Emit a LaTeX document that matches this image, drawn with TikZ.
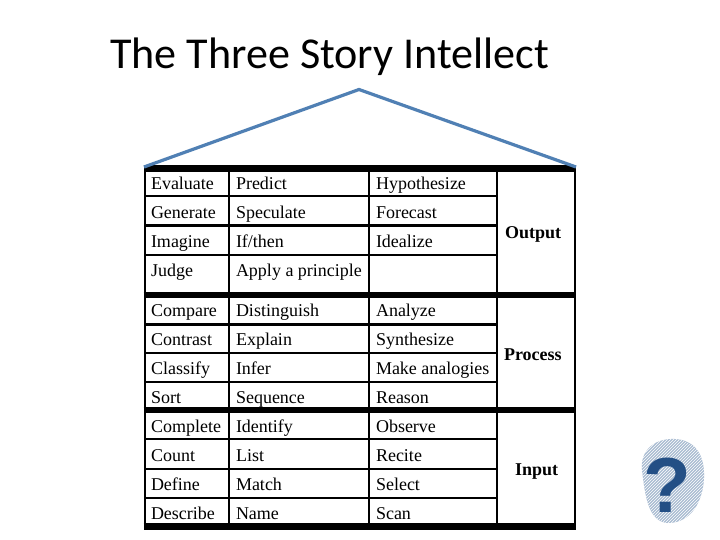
\documentclass[tikz,border=0pt]{standalone}
\usepackage{fontspec}
\setmainfont{Liberation Serif}
\newfontfamily\titlefont{Carlito}
\newfontfamily\marksans{Liberation Sans}
\usetikzlibrary{patterns}
\definecolor{roofblue}{HTML}{5080B4}
\definecolor{markblue}{HTML}{234F85}
\definecolor{blobblue}{HTML}{A9BCD2}
\tikzset{
  cell/.style={anchor=base west,inner sep=0pt,outer sep=0pt,font=\fontsize{18}{18}\selectfont,text=black},
  zone/.style={anchor=base west,inner sep=0pt,outer sep=0pt,font=\fontsize{18}{18}\selectfont\bfseries,text=black},
  thinrule/.style={line width=2.2pt,black},
  thickrule/.style={line width=6.5pt,black},
  roof/.style={line width=3.2pt,roofblue,line join=round}
}
\begin{document}
\begin{tikzpicture}[x=1pt,y=-1pt]
\useasboundingbox (0,0) rectangle (720,540);
\fill[white] (0,0) rectangle (720,540);
% grid
\foreach \yy in {196,225.5,254.7,324.5,352.7,381.7,439.3,468.7,497.7}
  \draw[thinrule] (144,\yy) -- (497,\yy);
\foreach \xx in {145,229,369,497,575}
  \draw[thinrule] (\xx,168) -- (\xx,527);
\foreach \yy in {168.3,295.2,410,526.5}
  \draw[thickrule] (143.5,\yy) -- (576,\yy);
% roof
\coordinate (eaveL) at (144,167);
\coordinate (ridge) at (359,89.5);
\coordinate (eaveR) at (576,167);
\draw[roof] (eaveL) -- (ridge) -- (eaveR);
% title
\node[anchor=base west,inner sep=0pt,font=\titlefont\fontsize{44.1}{45}\selectfont] (title) at (110,68.6) {The Three Story Intellect};
% column 1
\node[cell] (a1) at (151,189.6) {Evaluate};
\node[cell] (a2) at (151,218.3) {Generate};
\node[cell] (a3) at (151,247.3) {Imagine};
\node[cell] (a4) at (151,276) {Judge};
\node[cell] (a5) at (151,316) {Compare};
\node[cell] (a6) at (151,345) {Contrast};
\node[cell] (a7) at (151,374) {Classify};
\node[cell] (a8) at (151,403) {Sort};
\node[cell] (a9) at (151,432) {Complete};
\node[cell] (a10) at (151,461) {Count};
\node[cell] (a11) at (151,490) {Define};
\node[cell] (a12) at (151,519) {Describe};
% column 2
\node[cell] (b1) at (236,189.6) {Predict};
\node[cell] (b2) at (236,218.3) {Speculate};
\node[cell] (b3) at (236,247.3) {If/then};
\node[cell] (b4) at (236,276) {Apply a principle};
\node[cell] (b5) at (236,316) {Distinguish};
\node[cell] (b6) at (236,345) {Explain};
\node[cell] (b7) at (236,374) {Infer};
\node[cell] (b8) at (236,403) {Sequence};
\node[cell] (b9) at (236,432) {Identify};
\node[cell] (b10) at (236,461) {List};
\node[cell] (b11) at (236,490) {Match};
\node[cell] (b12) at (236,519) {Name};
% column 3
\node[cell] (c1) at (376,189.6) {Hypothesize};
\node[cell] (c2) at (376,218.3) {Forecast};
\node[cell] (c3) at (376,247.3) {Idealize};
\node[cell] (c5) at (376,316) {Analyze};
\node[cell] (c6) at (376,345) {Synthesize};
\node[cell] (c7) at (376,374) {Make analogies};
\node[cell] (c8) at (376,403) {Reason};
\node[cell] (c9) at (376,432) {Observe};
\node[cell] (c10) at (376,461) {Recite};
\node[cell] (c11) at (376,490) {Select};
\node[cell] (c12) at (376,519) {Scan};
% zones
\node[zone] (output) at (505,238) {Output};
\node[zone] (process) at (504,360) {Process};
\node[zone] (input) at (515,475) {Input};
% question mark badge
\def\blob{(642,470) .. controls (640,450) and (655,438) .. (675,439)
  .. controls (695,440) and (705,455) .. (704,478)
  .. controls (703,500) and (692,523) .. (668,523)
  .. controls (648,522) and (645,495) .. (642,470) -- cycle}
\fill[blobblue] \blob;
\fill[pattern=north east lines,pattern color=white,fill opacity=.55] \blob;
\node[anchor=base,inner sep=0pt,text=markblue,font=\marksans\bfseries\fontsize{78}{78}\selectfont] (mark) at (667.5,512) {?};
\end{tikzpicture}
\end{document}
